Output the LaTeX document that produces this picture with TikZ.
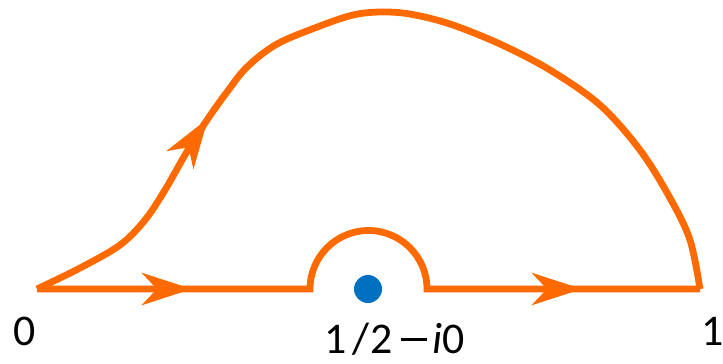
\documentclass[tikz,border=0pt]{standalone}
\usepackage{fontspec}
\setmainfont{Carlito}
\usetikzlibrary{arrows.meta,decorations.markings}
\definecolor{contour}{HTML}{FF6A00}
\definecolor{dotblue}{HTML}{0070C0}
\tikzset{
  path/.style={draw=contour, line width=3.4bp},
  tip/.style={-{Stealth[length=25bp,width=16bp,inset=7.5bp]}, draw=contour, fill=contour, line width=3.4bp},
  lbl/.style={font=\fontsize{22}{26}\selectfont, inner sep=0pt},
}
\begin{document}
\begin{tikzpicture}[x=0.5bp,y=-0.5bp]
\useasboundingbox (0,0) rectangle (723,363);
% points
\coordinate (A) at (37,289);
\coordinate (B) at (700,289);
\coordinate (L) at (310,289);
\coordinate (R) at (427,289);
\coordinate (C) at (368,289);
% lower path with indentation
\draw[path] (A) -- (L) arc[start angle=180,end angle=360,radius=58.5] -- (B);
\draw[tip] (A) -- (192,289);
\draw[tip] (R) -- (582,289);
% upper curve
\draw[path, decoration={markings, mark=at position 0.272 with {\arrow[contour]{Stealth[length=25bp,width=16bp,inset=7.5bp]}}}, postaction={decorate}]
  plot[smooth, tension=0.55] coordinates {(37,289) (80,268) (120,245) (145,220) (165,190) (185,155) (207,120) (227,92) (247,67) (277,44) (320,26) (353,15) (380,12) (410,14) (450,24) (500,44) (550,70) (600,105) (640,150) (670,198) (690,240) (700,289)};
% pole
\fill[dotblue] (C) circle[radius=14];
% labels
\node[lbl, anchor=base west] (l0) at (13,345) {0};
\node[lbl, anchor=base west] (l1) at (324,353) {1\hspace{3bp}/\hspace{0.5bp}2\hspace{4bp}\raisebox{6.2bp}{\rule{13bp}{1.1bp}}\hspace{3bp}\textit{i}0};
\node[lbl, anchor=base east] (l2) at (724,345) {1};
\end{tikzpicture}
\end{document}
